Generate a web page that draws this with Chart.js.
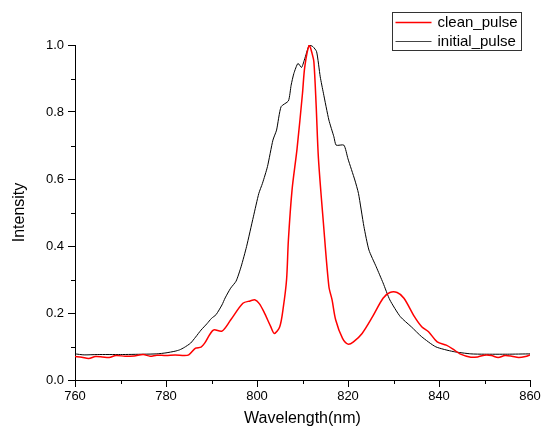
<!DOCTYPE html>
<html>
<head>
<meta charset="utf-8">
<script src="https://cdn.jsdelivr.net/npm/chart.js@4"></script>
<style>
  html, body { margin: 0; padding: 0; background: #fff; }
</style>
</head>
<body>
<canvas id="chart" width="546" height="430"></canvas>
<script>
// Series (wavelength in nm, normalised intensity)
const cleanWavelength = [760, 761.5, 763, 764.5, 766, 767.5, 769, 771, 773, 775, 776.5, 778, 780, 782, 784, 785,
  786.5, 787.7, 788.5, 790.4, 792.3, 794.2, 796.9, 798.5, 799.6, 800.5, 801.5, 803, 803.8, 805, 805.8, 806.5,
  806.9, 807.7, 808.8, 810, 810.5, 811.5, 812.1, 812.5, 813, 813.5, 814.6, 815.8, 816.5, 817.3, 818.8, 820,
  821.2, 823.1, 825.4, 827.7, 829.2, 830.8, 832.3, 834.6, 836.2, 837.7, 839.6, 841.6, 843.1, 844.6, 847,
  848.5, 850, 851.5, 853, 854.5, 856, 857.5, 859, 860];
const cleanPulse = [0.07, 0.068, 0.064, 0.07, 0.069, 0.067, 0.073, 0.071, 0.072, 0.076, 0.071, 0.074, 0.073, 0.075, 0.073, 0.075,
  0.095, 0.098, 0.11, 0.149, 0.146, 0.179, 0.229, 0.236, 0.239, 0.228, 0.204, 0.16, 0.139, 0.159, 0.219, 0.3,
  0.418, 0.567, 0.69, 0.856, 0.935, 1.0, 0.975, 0.95, 0.82, 0.662, 0.468, 0.279, 0.239, 0.179, 0.124, 0.107,
  0.114, 0.139, 0.189, 0.244, 0.261, 0.261, 0.244, 0.189, 0.159, 0.144, 0.114, 0.104, 0.092, 0.078, 0.068,
  0.069, 0.074, 0.073, 0.067, 0.073, 0.071, 0.067, 0.07, 0.075];

const initialWavelength = [760, 762, 765, 770, 775, 778, 780, 782, 783, 784, 785.4, 786.5, 787.7, 789, 790, 791,
  792.3, 793, 794.2, 795.4, 796.5, 797.7, 799.2, 800.4, 801.2, 802.3, 803.5, 804.3, 805.3, 806.9, 807.5,
  808.1, 809, 809.8, 810.4, 811.5, 812.3, 813.1, 813.9, 814.6, 815.8, 816.9, 817.4, 819.1, 820, 821.5,
  822.3, 823.5, 824.6, 826.2, 827.7, 829.2, 831.5, 833.9, 836.2, 839.3, 843.1, 847, 850, 855, 860];
const initialPulse = [0.078, 0.075, 0.076, 0.076, 0.077, 0.078, 0.081, 0.086, 0.09, 0.097, 0.11, 0.128, 0.149, 0.168, 0.184, 0.195,
  0.224, 0.245, 0.274, 0.295, 0.338, 0.398, 0.487, 0.557, 0.587, 0.637, 0.716, 0.746, 0.816, 0.833, 0.88,
  0.915, 0.945, 0.933, 0.955, 1.0, 0.995, 0.98, 0.905, 0.856, 0.776, 0.726, 0.701, 0.701, 0.66, 0.597,
  0.557, 0.458, 0.388, 0.338, 0.29, 0.239, 0.189, 0.159, 0.129, 0.099, 0.085, 0.078, 0.077, 0.077, 0.078];

const seriesLabels = ['clean_pulse', 'initial_pulse'];
const seriesColors = ['#ff0000', '#000000'];

const xMin = 760, xMax = 860, xStep = 20;
const yMin = 0, yMax = 1.0, yStep = 0.2;

// Pair up x and y arrays for the linear x scale
function toPoints(xs, ys) {
  return xs.map((x, i) => ({ x: x, y: ys[i] }));
}

const fontFamily = 'Arial, "Liberation Sans", sans-serif';
const tickFont = { family: fontFamily, size: 13 };
const titleFont = { family: fontFamily, size: 16 };

// Short unlabeled ticks between the labelled ones, placed through the scales
const minorTicks = {
  id: 'minorTicks',
  afterDraw(chart) {
    const ctx = chart.ctx;
    const xs = chart.scales.x, ys = chart.scales.y;
    ctx.save();
    ctx.strokeStyle = '#000';
    ctx.lineWidth = 1;
    ctx.beginPath();
    for (let v = xMin + xStep / 2; v < xMax; v += xStep) {
      const px = Math.round(xs.getPixelForValue(v)) + 0.5;
      ctx.moveTo(px, ys.bottom);
      ctx.lineTo(px, ys.bottom + 4);
    }
    for (let v = yMin + yStep / 2; v < yMax; v += yStep) {
      const py = Math.round(ys.getPixelForValue(v)) + 0.5;
      ctx.moveTo(xs.left, py);
      ctx.lineTo(xs.left - 4, py);
    }
    ctx.stroke();
    ctx.restore();
  }
};

// Boxed legend in the top right corner, drawn from the datasets
const boxLegend = {
  id: 'boxLegend',
  afterDraw(chart) {
    const ctx = chart.ctx;
    const left = 392.5, top = 12.5, w = 129, h = 38;
    ctx.save();
    ctx.fillStyle = '#fff';
    ctx.fillRect(left, top, w, h);
    ctx.strokeStyle = '#333';
    ctx.lineWidth = 1;
    ctx.strokeRect(left, top, w, h);
    ctx.font = '15px ' + fontFamily;
    ctx.textBaseline = 'middle';
    chart.data.datasets.forEach((ds, i) => {
      const y = top + 10 + i * 19;
      ctx.strokeStyle = seriesColors[i] === '#000000' ? '#444' : seriesColors[i];
      ctx.lineWidth = i === 0 ? 1.5 : 1;
      ctx.beginPath();
      ctx.moveTo(left + 3, y);
      ctx.lineTo(left + 39, y);
      ctx.stroke();
      ctx.fillStyle = '#000';
      ctx.fillText(ds.label, left + 45, y);
    });
    ctx.restore();
  }
};

const chart = new Chart(document.getElementById('chart'), {
  type: 'line',
  data: {
    datasets: [
      {
        label: seriesLabels[0],
        data: toPoints(cleanWavelength, cleanPulse),
        borderColor: seriesColors[0],
        borderWidth: 1.5,
        pointRadius: 0,
        tension: 0.3,
        fill: false,
      },
      {
        label: seriesLabels[1],
        data: toPoints(initialWavelength, initialPulse),
        borderColor: seriesColors[1],
        borderWidth: 1,
        pointRadius: 0,
        tension: 0.2,
        fill: false,
      },
    ],
  },
  options: {
    responsive: false,
    animation: false,
    layout: { padding: { top: 45, right: 16, left: 0, bottom: 0 } },
    plugins: {
      legend: { display: false },
      tooltip: { enabled: false },
    },
    elements: { line: { borderCapStyle: 'round', borderJoinStyle: 'round' } },
    scales: {
      x: {
        type: 'linear',
        min: xMin,
        max: xMax,
        afterFit: (scale) => { scale.height = 50; },
        ticks: { stepSize: xStep, color: '#000', font: tickFont, padding: 2, maxRotation: 0 },
        grid: { drawOnChartArea: false, drawTicks: true, tickLength: 7, tickColor: '#000' },
        border: { display: true, color: '#000', width: 1 },
        title: { display: true, text: 'Wavelength(nm)', color: '#000', font: titleFont, padding: { top: 0, bottom: 2 } },
      },
      y: {
        type: 'linear',
        min: yMin,
        max: yMax,
        afterFit: (scale) => { scale.width = 75; },
        ticks: {
          stepSize: yStep, color: '#000', font: tickFont, padding: 4,
          callback: (v) => v.toFixed(1),
        },
        grid: { drawOnChartArea: false, drawTicks: true, tickLength: 7, tickColor: '#000' },
        border: { display: true, color: '#000', width: 1 },
        title: { display: true, text: 'Intensity', color: '#000', font: titleFont, padding: { top: 10, bottom: 0 } },
      },
    },
  },
  plugins: [minorTicks, boxLegend],
});
</script>
</body>
</html>
